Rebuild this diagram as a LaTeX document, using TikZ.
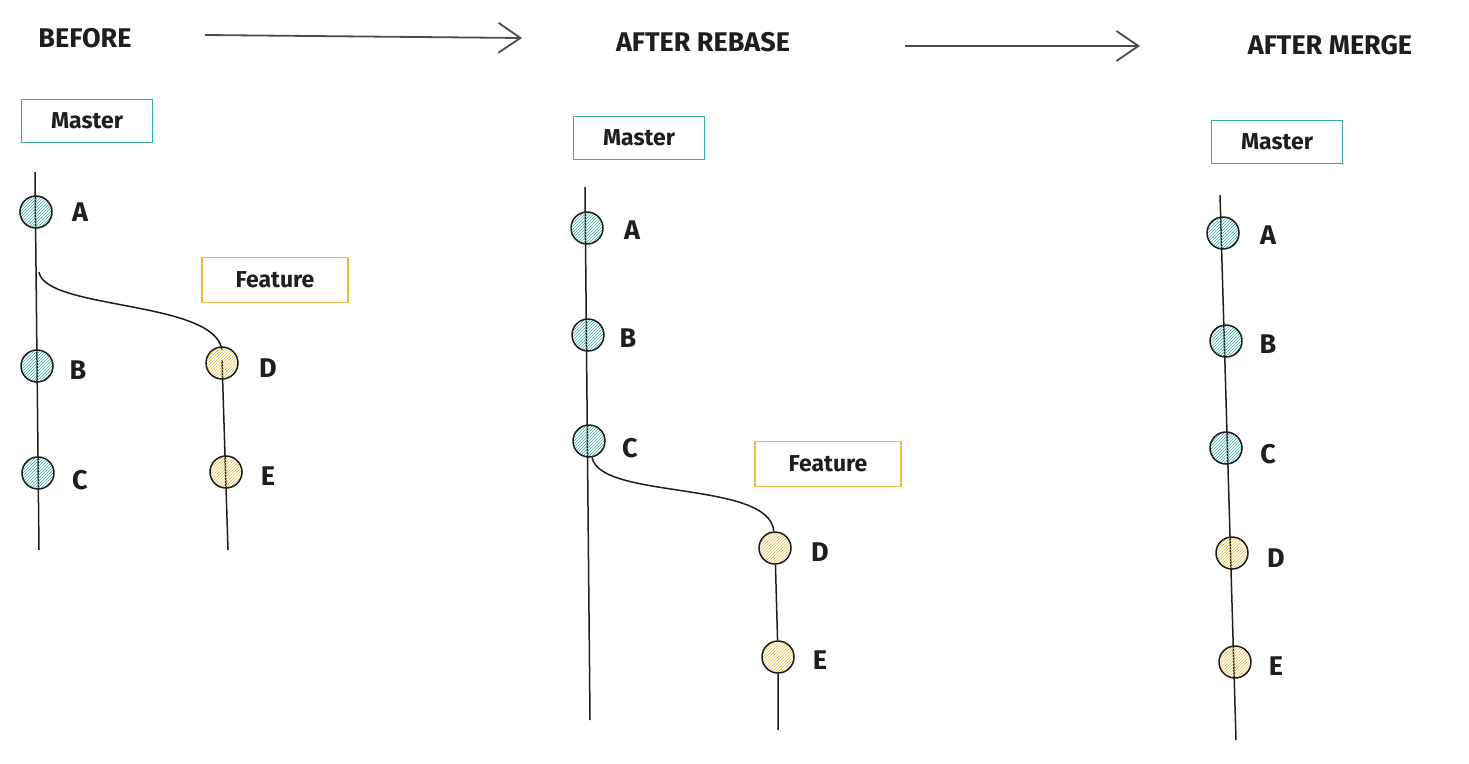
\documentclass[tikz,border=0pt]{standalone}
\usepackage{fontspec}
\setmainfont{Fira Sans}
\usetikzlibrary{patterns,arrows.meta}
\definecolor{teal1}{HTML}{3AAE9F}
\definecolor{yel1}{HTML}{E6BE45}
\definecolor{ink}{HTML}{1E1E1E}
\tikzset{
  x=1pt,y=-1pt,
  title/.style={font=\fontsize{27}{30}\selectfont\bfseries, text=ink},
  lab/.style={font=\fontsize{27}{30}\selectfont\bfseries, text=ink},
  mbox/.style={draw=teal1, line width=1.6pt, minimum width=131pt, minimum height=43pt, font=\fontsize{23}{26}\selectfont\bfseries, text=ink},
  fbox/.style={draw=yel1, line width=1.6pt, minimum width=146pt, minimum height=45pt, font=\fontsize{23}{26}\selectfont\bfseries, text=ink},
  mcommit/.style={circle, draw=ink, line width=1.5pt, minimum size=32pt, inner sep=0pt, pattern={north east lines}, pattern color=teal1},
  fcommit/.style={circle, draw=ink, line width=1.5pt, minimum size=32pt, inner sep=0pt, pattern={north east lines}, pattern color=yel1},
  br/.style={draw=ink, line width=1.5pt},
  arr/.style={draw=ink!80, line width=1.8pt, -{Straight Barb[length=22pt,width=30pt]}}
}
\begin{document}
\begin{tikzpicture}
\useasboundingbox (0,0) rectangle (1469,763);
% titles
\node[title] (t1) at (85,38) {BEFORE};
\node[title] (t2) at (703,42) {AFTER REBASE};
\node[title] (t3) at (1330,45) {AFTER MERGE};
\coordinate (a1s) at (205,35); \coordinate (a1e) at (522,38);
\coordinate (a2s) at (905,46); \coordinate (a2e) at (1140,46);
\draw[arr] (a1s) -- (a1e);
\draw[arr] (a2s) -- (a2e);
% boxes
\node[mbox] (m1) at (87,121) {Master};
\node[mbox] (m2) at (639,138) {Master};
\node[mbox] (m3) at (1277,142) {Master};
\node[fbox] (f1) at (275,280) {Feature};
\node[fbox] (f2) at (828,464) {Feature};
% BEFORE
\coordinate (b0) at (35,172); \coordinate (b9) at (39,550);
\coordinate (bs) at (39,272); \coordinate (be9) at (228,550);
\draw[br] (b0) -- (b9);
\draw[br] (bs) .. controls (45,310) and (215,300) .. (222,350);
\draw[br] (222,360) -- (be9);
\node[mcommit] (bA) at (36,212) {};
\node[mcommit] (bB) at (37,366) {};
\node[mcommit] (bC) at (38,473) {};
\node[fcommit] (bD) at (222,363) {};
\node[fcommit] (bE) at (226,472) {};
\node[lab] (lbA) at (80,212) {A};
\node[lab] (lbB) at (78,370) {B};
\node[lab] (lbC) at (80,480) {C};
\node[lab] (lbD) at (268,368) {D};
\node[lab] (lbE) at (268,476) {E};
% REBASE
\coordinate (r0) at (585,187); \coordinate (r9) at (590,720);
\coordinate (re9) at (778,730);
\draw[br] (r0) -- (r9);
\node[mcommit] (rA) at (587,228) {};
\node[mcommit] (rB) at (588,335) {};
\node[mcommit] (rC) at (589,441) {};
\node[fcommit] (rD) at (775,548) {};
\node[fcommit] (rE) at (778,657) {};
\draw[br] (rC) .. controls (600,500) and (770,480) .. (rD);
\draw[br] (rD) -- (rE) -- (re9);
\node[lab] (lrA) at (632,230) {A};
\node[lab] (lrB) at (628,338) {B};
\node[lab] (lrC) at (630,448) {C};
\node[lab] (lrD) at (820,552) {D};
\node[lab] (lrE) at (820,660) {E};
% MERGE
\coordinate (g0) at (1220,195); \coordinate (g9) at (1236,740);
\draw[br] (g0) -- (g9);
\node[mcommit] (gA) at (1223,233) {};
\node[mcommit] (gB) at (1226,341) {};
\node[mcommit] (gC) at (1226,448) {};
\node[fcommit] (gD) at (1232,553) {};
\node[fcommit] (gE) at (1235,662) {};
\node[lab] (lgA) at (1268,235) {A};
\node[lab] (lgB) at (1268,344) {B};
\node[lab] (lgC) at (1268,454) {C};
\node[lab] (lgD) at (1276,558) {D};
\node[lab] (lgE) at (1276,666) {E};
\end{tikzpicture}
\end{document}
